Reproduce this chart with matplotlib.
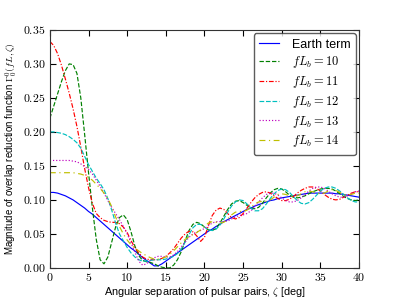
import numpy as np
import matplotlib
matplotlib.use("Agg")
import matplotlib.pyplot as plt
from matplotlib.ticker import FuncFormatter, MultipleLocator

plt.rcParams['font.family'] = ['Liberation Sans', 'DejaVu Sans']
plt.rcParams['mathtext.fontset'] = 'cm'

# angular separation grid (deg), values every 0.5 deg
zeta = np.arange(0, 40.5, 0.5)

earth = [0.111, 0.111, 0.110, 0.108, 0.106, 0.103, 0.100, 0.096, 0.092, 0.088,
         0.083, 0.079, 0.074, 0.069, 0.064, 0.059, 0.054, 0.049, 0.044, 0.039,
         0.034, 0.029, 0.025, 0.020, 0.015, 0.011, 0.007, 0.003, 0.003, 0.006,
         0.010, 0.014, 0.018, 0.022, 0.026, 0.030, 0.034, 0.038, 0.042, 0.046,
         0.050, 0.054, 0.057, 0.061, 0.064, 0.068, 0.071, 0.074, 0.077, 0.080,
         0.083, 0.086, 0.088, 0.091, 0.093, 0.095, 0.097, 0.099, 0.100, 0.102,
         0.103, 0.104, 0.105, 0.106, 0.107, 0.108, 0.109, 0.110, 0.110, 0.110,
         0.110, 0.110, 0.110, 0.110, 0.109, 0.109, 0.108, 0.107, 0.106, 0.105,
         0.104]

fl10 = [0.220, 0.238, 0.256, 0.274, 0.290, 0.300, 0.299, 0.286, 0.250, 0.196,
        0.140, 0.088, 0.042, 0.012, 0.006, 0.016, 0.038, 0.060, 0.074, 0.078,
        0.071, 0.053, 0.032, 0.018, 0.011, 0.009, 0.008, 0.006, 0.003, 0.001,
        0.000, 0.000, 0.004, 0.012, 0.024, 0.040, 0.055, 0.064, 0.067, 0.065,
        0.060, 0.056, 0.055, 0.058, 0.066, 0.076, 0.086, 0.094, 0.098, 0.099,
        0.096, 0.092, 0.088, 0.087, 0.089, 0.095, 0.103, 0.110, 0.115, 0.117,
        0.116, 0.112, 0.107, 0.104, 0.103, 0.104, 0.106, 0.109, 0.112, 0.114,
        0.116, 0.117, 0.117, 0.116, 0.113, 0.109, 0.105, 0.102, 0.100, 0.099,
        0.100]

fl11 = [0.333, 0.327, 0.315, 0.298, 0.278, 0.257, 0.234, 0.208, 0.178, 0.146,
        0.118, 0.095, 0.080, 0.074, 0.070, 0.068, 0.067, 0.067, 0.065, 0.060,
        0.052, 0.040, 0.030, 0.022, 0.016, 0.013, 0.012, 0.012, 0.012, 0.014,
        0.017, 0.022, 0.028, 0.036, 0.044, 0.050, 0.054, 0.053, 0.047, 0.039,
        0.045, 0.062, 0.077, 0.085, 0.088, 0.086, 0.080, 0.074, 0.072, 0.074,
        0.080, 0.088, 0.096, 0.103, 0.108, 0.111, 0.112, 0.110, 0.106, 0.102,
        0.099, 0.099, 0.101, 0.105, 0.110, 0.114, 0.117, 0.119, 0.119, 0.117,
        0.113, 0.108, 0.104, 0.101, 0.100, 0.101, 0.104, 0.107, 0.110, 0.112,
        0.112]

fl12 = [0.200, 0.200, 0.199, 0.198, 0.196, 0.193, 0.189, 0.184, 0.176, 0.164,
        0.152, 0.142, 0.132, 0.124, 0.115, 0.102, 0.085, 0.066, 0.050, 0.040,
        0.030, 0.022, 0.016, 0.012, 0.010, 0.010, 0.011, 0.012, 0.012, 0.012,
        0.013, 0.015, 0.017, 0.021, 0.028, 0.038, 0.049, 0.059, 0.064, 0.064,
        0.060, 0.056, 0.055, 0.057, 0.063, 0.072, 0.082, 0.091, 0.097, 0.100,
        0.099, 0.094, 0.088, 0.084, 0.084, 0.087, 0.094, 0.102, 0.109, 0.114,
        0.116, 0.115, 0.111, 0.105, 0.099, 0.095, 0.094, 0.096, 0.101, 0.107,
        0.113, 0.117, 0.119, 0.119, 0.117, 0.113, 0.108, 0.103, 0.099, 0.097,
        0.097]

fl13 = [0.158, 0.158, 0.158, 0.158, 0.158, 0.158, 0.157, 0.156, 0.153, 0.149,
        0.145, 0.138, 0.129, 0.120, 0.110, 0.099, 0.089, 0.080, 0.071, 0.061,
        0.050, 0.037, 0.023, 0.010, 0.004, 0.006, 0.011, 0.015, 0.017, 0.017,
        0.016, 0.016, 0.019, 0.024, 0.031, 0.038, 0.045, 0.050, 0.053, 0.055,
        0.058, 0.062, 0.066, 0.068, 0.068, 0.068, 0.069, 0.072, 0.075, 0.077,
        0.078, 0.080, 0.084, 0.090, 0.097, 0.103, 0.108, 0.110, 0.110, 0.107,
        0.103, 0.099, 0.097, 0.097, 0.099, 0.103, 0.108, 0.113, 0.117, 0.119,
        0.119, 0.117, 0.113, 0.109, 0.106, 0.104, 0.104, 0.106, 0.109, 0.112,
        0.113]

fl14 = [0.140, 0.140, 0.140, 0.140, 0.140, 0.140, 0.140, 0.139, 0.138, 0.136,
        0.133, 0.129, 0.123, 0.117, 0.110, 0.102, 0.090, 0.075, 0.061, 0.050,
        0.041, 0.034, 0.029, 0.025, 0.021, 0.018, 0.015, 0.013, 0.013, 0.014,
        0.016, 0.020, 0.025, 0.031, 0.037, 0.042, 0.046, 0.049, 0.052, 0.056,
        0.061, 0.066, 0.068, 0.067, 0.066, 0.067, 0.072, 0.078, 0.082, 0.083,
        0.083, 0.085, 0.089, 0.094, 0.097, 0.098, 0.098, 0.100, 0.104, 0.108,
        0.109, 0.108, 0.106, 0.105, 0.106, 0.109, 0.112, 0.113, 0.112, 0.110,
        0.109, 0.110, 0.113, 0.115, 0.114, 0.111, 0.108, 0.107, 0.108, 0.110,
        0.110]

fig = plt.figure(figsize=(3.99, 2.99), dpi=100)
ax = fig.add_axes([0.125, 0.104, 0.775, 0.796])

lw = 0.85
ax.plot(zeta, earth, color='b', lw=lw, label='Earth term')
ax.plot(zeta, fl10, color='g', lw=lw, ls='--', label=r'$fL_b = 10$')
ax.plot(zeta, fl11, color='r', lw=lw, dashes=(4, 1.5, 1, 1.5), label=r'$fL_b = 11$')
ax.plot(zeta, fl12, color='c', lw=lw, dashes=(4, 1.5), label=r'$fL_b = 12$')
ax.plot(zeta, fl13, color='m', lw=lw, ls=':', label=r'$fL_b = 13$')
ax.plot(zeta, fl14, color='y', lw=lw, dashes=(5, 3, 1, 3), label=r'$fL_b = 14$')

ax.set_xlim(0, 40)
ax.set_ylim(0, 0.35)
ax.xaxis.set_major_locator(MultipleLocator(5))
ax.yaxis.set_major_locator(MultipleLocator(0.05))
ax.xaxis.set_major_formatter(FuncFormatter(lambda v, p: r'$%d$' % v))
ax.yaxis.set_major_formatter(FuncFormatter(lambda v, p: r'$%.2f$' % v))
ax.tick_params(direction='in', top=True, right=True, length=4, labelsize=8.5, pad=3)
for s in ax.spines.values():
    s.set_edgecolor('#333333')

ax.set_xlabel(r'Angular separation of pulsar pairs, $\zeta$ [deg]', fontsize=7.8, labelpad=1)
ax.set_ylabel(r'Magnitude of overlap reduction function $\Gamma^{0}_{0}(fL,\zeta)$',
              fontsize=7, labelpad=3)

leg = ax.legend(loc='upper right', fontsize=9, fancybox=True, borderaxespad=0.25,
                handlelength=1.6, handletextpad=1.0, labelspacing=0.3, borderpad=0.45)
leg.get_frame().set_edgecolor('#333333')

fig.savefig('out.png', dpi=100, facecolor='white')
